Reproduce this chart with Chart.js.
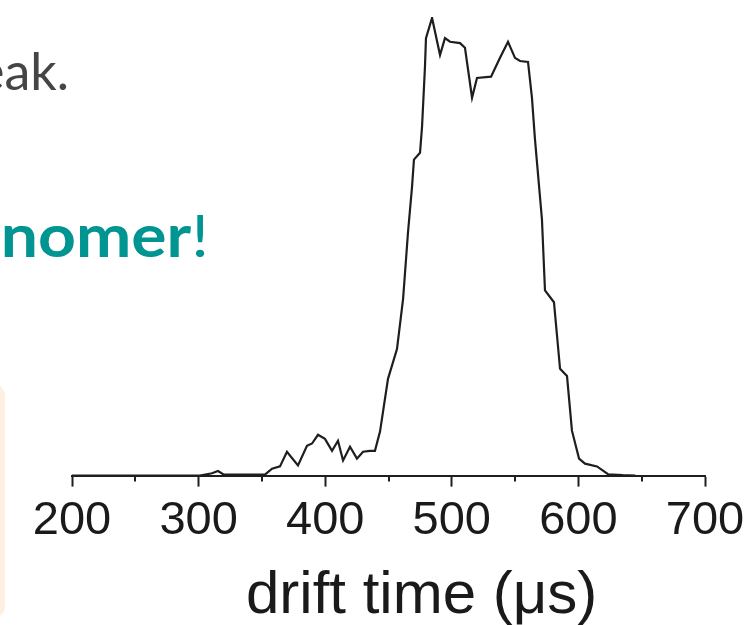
<!DOCTYPE html>
<html>
<head>
<meta charset="utf-8">
<script src="https://cdn.jsdelivr.net/npm/chart.js@4/dist/chart.umd.min.js"></script>
<style>
  html, body { margin: 0; padding: 0; background: #fff; }
  #stage { position: relative; width: 748px; height: 625px; overflow: hidden; }
  #plot { position: absolute; left: 0; top: 0; }
  .slide-text { position: absolute; white-space: nowrap; line-height: 1; font-family: Lato, "Open Sans", sans-serif; }
  #line1 { right: 679px; top: 44px; font-size: 52px; color: #454545; }
  #line2 { right: 539px; top: 205px; font-size: 59px; color: #019592; transform: scaleX(1.12); transform-origin: right center; }
  #line2 b { font-weight: 700; }
  #box { position: absolute; left: -20px; top: 385px; width: 25px; height: 232px; background: #fef0e1; border-radius: 10px; }
  #xtitle { position: absolute; left: 246px; top: 563px; font-family: "Liberation Sans", Arial, sans-serif; font-size: 60px; line-height: 1; color: #1a1a1a; white-space: nowrap; }
</style>
</head>
<body>
<div id="stage">
  <div id="box"></div>
  <div id="line1" class="slide-text">eak.</div>
  <div id="line2" class="slide-text"><b>nomer</b>!</div>
  <canvas id="plot" width="748" height="625"></canvas>
  <div id="xtitle">drift time (μs)</div>
</div>
<script>
// drift time (µs) and detector signal (arbitrary units, peak ~100)
const driftTime = [200, 301, 310.6, 315.3, 320, 352.4, 358, 364.3, 369.8, 378.5, 385.6, 389.6, 394.3,
  399.8, 405.4, 410.1, 414.1, 419.6, 425.1, 429.9, 435.4, 439.3, 443.3, 449.6, 456.7, 461.5, 465.4,
  468.6, 470.1, 474.9, 476.5, 478.8, 479.6, 484.4, 490.7, 494.6, 498.6, 506.5, 510.4, 516, 519.9,
  531, 538.1, 544.4, 549.9, 553.9, 560.2, 563.3, 565.7, 571.2, 573.6, 580.7, 585.5, 591, 594.9,
  600.5, 605.2, 614.7, 623.4, 635.2, 645];
const signal = [0, 0, 0.5, 1, 0.2, 0.2, 1.5, 2.0, 5.2, 2.2, 6.5, 7.0, 8.9,
  8.0, 5.4, 7.6, 3.3, 6.3, 3.7, 5.2, 5.4, 5.4, 9.6, 21.1, 27.6, 38.5, 53.0,
  63.0, 68.9, 70.4, 76.1, 89.1, 95.4, 99.8, 91.7, 95.4, 94.6, 94.3, 93.3, 82.4, 86.7,
  87.0, 91.1, 94.6, 91.1, 90.4, 90.2, 82.4, 73.3, 55.9, 40.4, 37.8, 23.3, 21.7, 9.8,
  3.7, 2.6, 2.0, 0.3, 0.1, 0];
const majorTicks = [200, 300, 400, 500, 600, 700];
const minorTicks = [250, 350, 450, 550, 650];

const inkColor = '#1e1e1e';

// short half-way ticks between the labelled ones
const minorTickPlugin = {
  id: 'minorTicks',
  afterDraw(chart) {
    const x = chart.scales.x;
    const ctx = chart.ctx;
    ctx.save();
    ctx.strokeStyle = inkColor;
    ctx.lineWidth = 2;
    minorTicks.forEach(v => {
      const px = Math.round(x.getPixelForValue(v));
      ctx.beginPath();
      ctx.moveTo(px, x.top);
      ctx.lineTo(px, x.top + 6);
      ctx.stroke();
    });
    ctx.restore();
  }
};

new Chart(document.getElementById('plot').getContext('2d'), {
  type: 'line',
  data: {
    datasets: [{
      data: driftTime.map((t, i) => ({ x: t, y: signal[i] })),
      borderColor: inkColor,
      borderWidth: 2.2,
      pointRadius: 0,
      tension: 0,
      fill: false
    }]
  },
  options: {
    responsive: false,
    devicePixelRatio: 1,
    animation: false,
    layout: { padding: { left: 72, right: 43, top: 17, bottom: 70 } },
    plugins: { legend: { display: false }, tooltip: { enabled: false } },
    scales: {
      x: {
        type: 'linear',
        min: 200,
        max: 700,
        afterBuildTicks: axis => { axis.ticks = majorTicks.map(v => ({ value: v })); },
        // the end labels may hang past the plot edges; layout padding handles that
        afterFit: axis => { axis.paddingLeft = 0; axis.paddingRight = 0; },
        border: { display: true, color: inkColor, width: 2 },
        grid: { display: true, drawOnChartArea: false, drawTicks: true, tickLength: 11, tickColor: inkColor, tickWidth: 2 },
        ticks: {
          padding: 6,
          maxRotation: 0,
          color: '#1a1a1a',
          font: { family: '"Liberation Sans", Arial, sans-serif', size: 47 }
        }
      },
      y: {
        display: false,
        min: 0,
        max: 100
      }
    }
  },
  plugins: [minorTickPlugin]
});
</script>
</body>
</html>
